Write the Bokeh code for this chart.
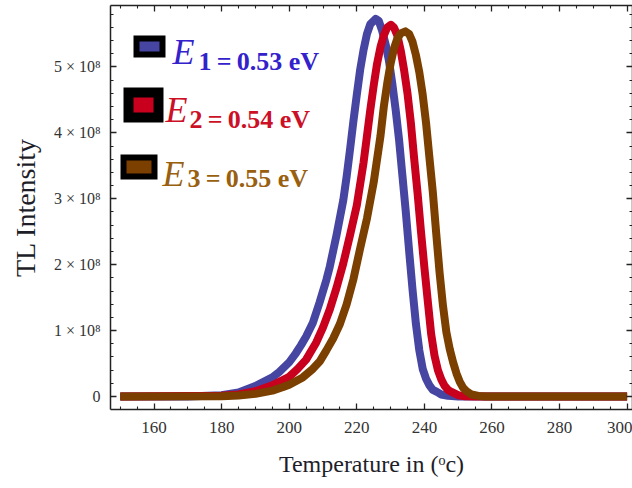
from bokeh.plotting import figure
from bokeh.models import (Range1d, FixedTicker, LinearAxis, CustomJSTickFormatter,
                          Label, BoxAnnotation, ColumnDataSource)
from bokeh.embed import file_html
from bokeh.resources import INLINE

# ---- data (intensity in units of 1e8) ----
temp_e1 = [150, 170, 180, 185, 190, 195, 197, 200, 202, 203.5, 205, 207, 209, 211, 212, 214,
           216, 217, 218, 219, 220, 221, 222, 223, 224, 225.6, 226.5, 227.5, 228.5, 229.5,
           230.5, 231.5, 232.5, 233.5, 234.5, 235.5, 236.5, 237.5, 238.5, 239.5, 240.5,
           241.5, 242.5, 243.7, 245, 247, 250, 300]
tl_e1 = [0, 0.002, 0.02, 0.06, 0.16, 0.29, 0.37, 0.52, 0.66, 0.78, 0.91, 1.12, 1.43, 1.77,
         1.97, 2.45, 2.98, 3.34, 3.75, 4.18, 4.58, 4.96, 5.26, 5.50, 5.65, 5.73, 5.70, 5.55,
         5.35, 5.10, 4.75, 4.35, 3.90, 3.35, 2.80, 2.20, 1.62, 1.10, 0.70, 0.42, 0.27, 0.17,
         0.10, 0.07, 0.03, 0.01, 0, 0]

temp_e2 = [150, 180, 185, 190, 195, 200, 202.5, 205, 208, 210, 212, 214, 216, 218, 220, 222,
           223, 224, 225, 226, 227, 228, 229, 230.1, 231, 232, 233, 234, 235, 236, 237, 238,
           239, 240, 241, 242, 243, 244, 245, 246, 247, 248, 250, 252, 255, 300]
tl_e2 = [0, 0.01, 0.03, 0.08, 0.17, 0.30, 0.42, 0.56, 0.82, 1.05, 1.32, 1.65, 2.02, 2.45,
         2.90, 3.55, 3.95, 4.35, 4.72, 5.05, 5.30, 5.48, 5.60, 5.64, 5.60, 5.48, 5.25, 4.95,
         4.60, 4.15, 3.60, 3.08, 2.50, 1.96, 1.45, 0.95, 0.62, 0.40, 0.26, 0.16, 0.10, 0.07,
         0.02, 0.005, 0, 0]

temp_e3 = [150, 180, 185, 190, 195, 198, 200, 204, 207, 209, 211, 213, 215, 217, 219, 221,
           223, 225, 227, 228, 229, 230, 231, 232, 233, 234.4, 235.5, 236.5, 237.5, 238.5,
           239.5, 240.5, 241.5, 242.5, 243.5, 244.5, 245.5, 246.5, 247.5, 248.5, 249.5, 250.5,
           251.5, 252.5, 254, 256, 258, 300]
tl_e3 = [0, 0.005, 0.015, 0.04, 0.09, 0.14, 0.18, 0.29, 0.42, 0.53, 0.70, 0.88, 1.10, 1.40,
         1.78, 2.25, 2.70, 3.25, 3.95, 4.40, 4.75, 5.05, 5.28, 5.43, 5.51, 5.54, 5.50, 5.38,
         5.18, 4.92, 4.58, 4.15, 3.62, 3.10, 2.48, 1.88, 1.38, 0.98, 0.72, 0.52, 0.35, 0.22,
         0.13, 0.08, 0.03, 0.01, 0, 0]

scale = 1e8
legend_main = ["E", "E", "E"]
legend_rest = ["1\u2009=\u20090.53 eV", "2\u2009=\u20090.54 eV", "3\u2009=\u20090.55 eV"]

x_ticks = [160, 180, 200, 220, 240, 260, 280, 300]
x_minor = [150, 155, 165, 170, 175, 185, 190, 195, 205, 210, 215, 225, 230, 235,
           245, 250, 255, 265, 270, 275, 285, 290, 295]
y_ticks = [0, 1e8, 2e8, 3e8, 4e8, 5e8]
y_tick_labels = ["0", "1 \u00d7 10\u2078", "2 \u00d7 10\u2078", "3 \u00d7 10\u2078",
                 "4 \u00d7 10\u2078", "5 \u00d7 10\u2078"]
y_minor = [v * 1e8 for v in [-0.2, 0.2, 0.4, 0.6, 0.8, 1.2, 1.4, 1.6, 1.8, 2.2, 2.4, 2.6,
                             2.8, 3.2, 3.4, 3.6, 3.8, 4.2, 4.4, 4.6, 4.8, 5.2, 5.4, 5.6, 5.8]]

# ---- styles ----
line_colors = ["#4646A2", "#C8001E", "#7B3F00"]
text_colors = ["#3322CC", "#CC1026", "#99600F"]
FONT = "Liberation Serif"
AX = "#222222"

p = figure(width=632, height=488, output_backend="svg", toolbar_location=None,
           x_range=Range1d(147.1, 301.6), y_range=Range1d(-0.197e8, 5.933e8),
           min_border_left=110, min_border_right=0, min_border_top=5, min_border_bottom=79)
p.xgrid.visible = False
p.ygrid.visible = False
p.outline_line_color = None
p.background_fill_color = "white"
p.border_fill_color = "white"

for xs, ys, c in [(temp_e1, tl_e1, line_colors[0]),
                  (temp_e2, tl_e2, line_colors[1]),
                  (temp_e3, tl_e3, line_colors[2])]:
    src = ColumnDataSource(dict(x=xs, y=[v * scale for v in ys]))
    p.line("x", "y", source=src, line_width=8, line_color=c, line_cap="butt", line_join="round")

def style_axis(ax):
    ax.axis_line_color = AX
    ax.axis_line_width = 1.5
    ax.major_tick_line_color = AX
    ax.minor_tick_line_color = AX
    ax.major_tick_in = 6
    ax.major_tick_out = 0
    ax.minor_tick_in = 3
    ax.minor_tick_out = 0
    ax.major_tick_line_width = 1.3
    ax.minor_tick_line_width = 1.1

xa = p.xaxis[0]
xa.ticker = FixedTicker(ticks=x_ticks, minor_ticks=x_minor)
style_axis(xa)
xa.major_label_text_font = FONT
xa.major_label_text_font_size = "17px"
xa.major_label_text_color = "#333333"
xa.major_label_standoff = 12
xa.axis_label = "Temperature in (\u1d52c)"
xa.axis_label_text_font = FONT
xa.axis_label_text_font_size = "24px"
xa.axis_label_text_font_style = "normal"
xa.axis_label_text_color = "#1e1e2a"
xa.axis_label_standoff = 15

ya = p.yaxis[0]
ya.ticker = FixedTicker(ticks=y_ticks, minor_ticks=y_minor)
style_axis(ya)
ya.formatter = CustomJSTickFormatter(args=dict(t=y_ticks, lab=y_tick_labels), code="""
const i = t.findIndex(v => Math.abs(v - tick) < 1);
return i >= 0 ? lab[i] : "";
""")
ya.major_label_text_font = FONT
ya.major_label_text_font_size = "16px"
ya.major_label_text_color = "#333333"
ya.major_label_standoff = 10
ya.axis_label = "TL Intensity"
ya.axis_label_text_font = FONT
ya.axis_label_text_font_size = "28px"
ya.axis_label_text_font_style = "normal"
ya.axis_label_text_color = "#1e1e2a"
ya.axis_label_standoff = 10

blank = "return '';"
top = LinearAxis(ticker=FixedTicker(ticks=x_ticks, minor_ticks=x_minor),
                 formatter=CustomJSTickFormatter(code=blank),
                 major_label_text_font_size="0px", major_label_standoff=0)
style_axis(top)
p.add_layout(top, "above")
right = LinearAxis(ticker=FixedTicker(ticks=y_ticks, minor_ticks=y_minor),
                   formatter=CustomJSTickFormatter(code=blank),
                   major_label_text_font_size="0px", major_label_standoff=0)
style_axis(right)
p.add_layout(right, "right")

# ---- legend (screen units relative to the plot frame) ----
swatches = [(26, 52, 355, 371, 6), (18, 48, 292, 317, 10), (13, 44, 233, 252, 6)]
e_pos = [(62, 358), (55, 300), (52, 236)]
rest_pos = [(88, 348), (79, 290), (77, 231)]
for i in range(3):
    l, r, b, t, lw = swatches[i]
    p.add_layout(BoxAnnotation(left=l, right=r, bottom=b, top=t,
                               left_units="screen", right_units="screen",
                               bottom_units="screen", top_units="screen",
                               fill_color=line_colors[i], fill_alpha=1.0,
                               line_color="black", line_width=lw, line_alpha=1.0,
                               line_join="miter"))
    p.add_layout(Label(x=e_pos[i][0], y=e_pos[i][1], x_units="screen", y_units="screen",
                       text=legend_main[i], text_font=FONT, text_font_style="italic",
                       text_font_size="36px", text_color=text_colors[i],
                       text_baseline="middle", text_align="left"))
    p.add_layout(Label(x=rest_pos[i][0], y=rest_pos[i][1], x_units="screen", y_units="screen",
                       text=legend_rest[i], text_font=FONT, text_font_style="bold",
                       text_font_size="26px", text_color=text_colors[i],
                       text_baseline="middle", text_align="left"))

open("out.html", "w").write(file_html(p, INLINE))
